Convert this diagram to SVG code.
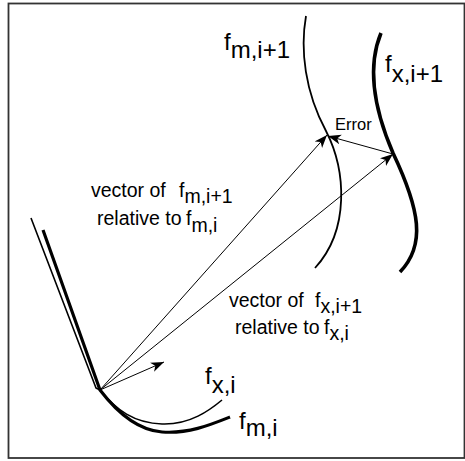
<svg xmlns="http://www.w3.org/2000/svg" width="465" height="461" viewBox="0 0 465 461">
<defs>
<style>
.t{font-family:"Liberation Sans",Arial,sans-serif;fill:#000}
.big{font-size:24px}
.mid{font-size:19.5px}
.small{font-size:16.5px}
.curve{fill:none;stroke:#000;stroke-linecap:butt;stroke-linejoin:round}
.vec{fill:none;stroke:#000;stroke-width:1}
</style>
<marker id="ah" markerUnits="userSpaceOnUse" markerWidth="16" markerHeight="12" refX="13" refY="5" orient="auto">
<path d="M0,0 L13,5 L0,10 L3.5,5 z" fill="#000"/>
</marker>
</defs>
<rect x="8.5" y="3.5" width="456" height="454.5" fill="#fff" stroke="#333" stroke-width="1.8"/>

<g id="f_m_i">
<path class="curve" stroke-width="3.2" d="M43,230 L100,390 C116,411 136,430 162,432 C188,434 210,425 230,417"/>
<text class="t big" x="239" y="429">f<tspan dy="7">m,i</tspan></text>
</g>
<g id="f_x_i">
<path class="curve" stroke-width="1.6" d="M31,218 L96,388 L100,390 C116,410 134,423 162,424 C190,425 210,410 222,400"/>
<text class="t big" x="205" y="384">f<tspan dy="9">x,i</tspan></text>
</g>
<g id="f_m_i1">
<path class="curve" stroke-width="1.8" d="M306,16 C300,50 305,92 326,131 C346,170 350,230 315,268"/>
<text class="t big" x="224" y="50">f<tspan dy="8">m,i+1</tspan></text>
</g>
<g id="f_x_i1">
<path class="curve" stroke-width="3.6" d="M381,33 C369,62 371,102 393,153 C420,210 426,245 400,272"/>
<text class="t big" x="385" y="72">f<tspan dy="10">x,i+1</tspan></text>
</g>

<g id="connectors">
<line class="vec" x1="100" y1="390" x2="327" y2="135" marker-end="url(#ah)"/>
<line class="vec" x1="100" y1="390" x2="393" y2="154" marker-end="url(#ah)"/>
<line class="vec" x1="100" y1="390" x2="164" y2="362" marker-end="url(#ah)"/>
<line class="vec" x1="393" y1="154" x2="328" y2="136" marker-end="url(#ah)"/>
</g>

<g id="labels">
<text class="t small" x="335" y="130">Error</text>
<text class="t mid" x="91" y="197">vector of<tspan x="179">f</tspan><tspan dy="6">m,i+1</tspan></text>
<text class="t mid" x="97" y="225">relative to<tspan x="186">f</tspan><tspan dy="7">m,i</tspan></text>
<text class="t mid" x="229" y="307">vector of<tspan x="315">f</tspan><tspan dy="6">x,i+1</tspan></text>
<text class="t mid" x="235" y="334">relative to<tspan x="324">f</tspan><tspan dy="6">x,i</tspan></text>
</g>
</svg>
